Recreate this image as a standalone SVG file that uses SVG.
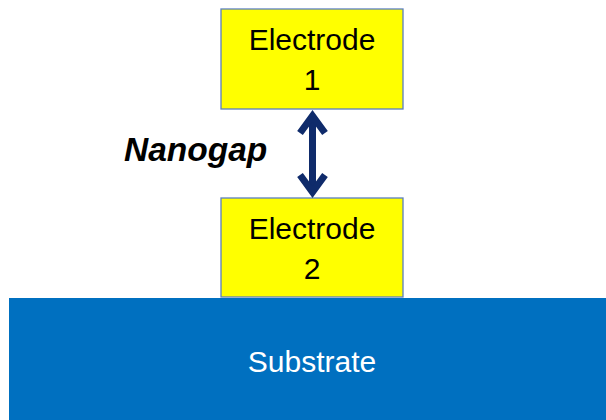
<svg xmlns="http://www.w3.org/2000/svg" width="606" height="420" viewBox="0 0 606 420">
<style>
.el{fill:#FFFF00;stroke:#5B7FC0;stroke-width:1.3}
.t{font-family:"Liberation Sans",Arial,sans-serif;font-size:30px;text-anchor:middle;fill:#000}
.arr{fill:none;stroke:#0F2B6B;stroke-width:7;stroke-linecap:butt;stroke-linejoin:miter}
</style>
<rect width="606" height="420" fill="#fff"/>
<g id="substrate">
<rect x="9" y="298" width="597" height="122" fill="#0070C0"/>
<text class="t" x="312" y="372" style="fill:#fff">Substrate</text>
</g>
<g id="electrode1">
<rect class="el" x="221" y="9" width="182" height="100"/>
<text class="t" x="312" y="50">Electrode</text>
<text class="t" x="312" y="90">1</text>
</g>
<g id="electrode2">
<rect class="el" x="221" y="198" width="182" height="99"/>
<text class="t" x="312" y="239">Electrode</text>
<text class="t" x="312" y="279">2</text>
</g>
<g id="nanogap">
<text x="124" y="161" style="font-family:'Liberation Sans',Arial,sans-serif;font-size:33.5px;font-weight:bold;font-style:italic;fill:#000">Nanogap</text>
</g>
<g id="connectors">
<line class="arr" x1="312.5" y1="115" x2="312.5" y2="193"/>
<polyline class="arr" points="300,133 312.5,116 325,133"/>
<polyline class="arr" points="300,175 312.5,192 325,175"/>
</g>
</svg>
